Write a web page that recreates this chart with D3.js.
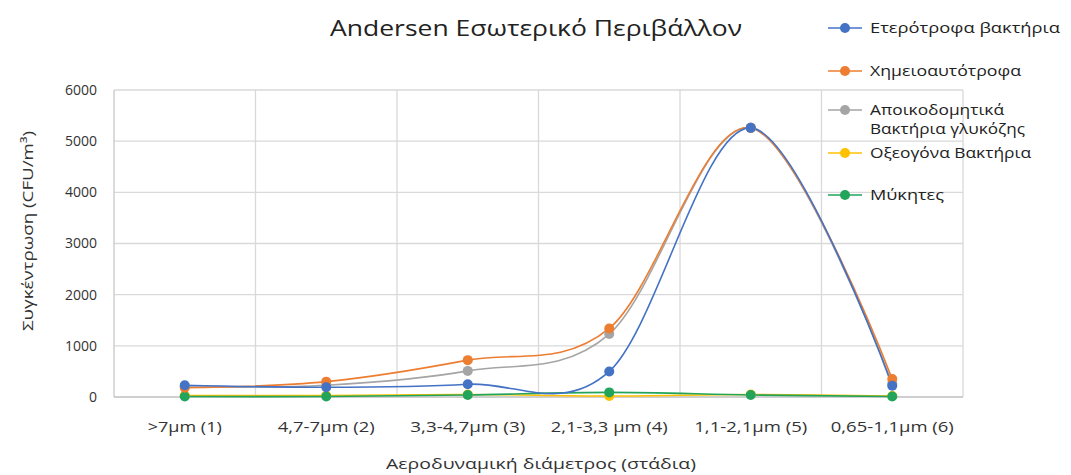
<!DOCTYPE html>
<html><head><meta charset="utf-8">
<script src="https://cdn.jsdelivr.net/npm/d3@7"></script>
<style>body{margin:0;background:#fff;} svg{font-family:"Open Sans","Noto Sans",sans-serif;}</style>
</head><body><svg id="c" width="1071" height="475"></svg>
<script>
const categories = [">7μm (1)", "4,7-7μm (2)", "3,3-4,7μm (3)", "2,1-3,3 μm (4)", "1,1-2,1μm (5)", "0,65-1,1μm (6)"];
const seriesNames = ["Ετερότροφα  βακτήρια", "Χημειοαυτότροφα", "Αποικοδομητικά Βακτήρια γλυκόζης", "Οξεογόνα Βακτήρια", "Μύκητες"];
const heterotrophic = [230, 190, 250, 500, 5260, 220];
const chemoautotrophic = [180, 300, 720, 1340, 5260, 350];
const glucoseDegrading = [200, 230, 510, 1230, 5260, 260];
const acidogenic = [30, 30, 50, 20, 50, 20];
const fungi = [10, 10, 40, 90, 40, 10];
const yTicks = [0, 1000, 2000, 3000, 4000, 5000, 6000];
const colors = ["#4472c4", "#ed7d31", "#a5a5a5", "#ffc000", "#22a55b"];
const allSeries = [heterotrophic, chemoautotrophic, glucoseDegrading, acidogenic, fungi];

const svg = d3.select("#c");
const m = {l:114, r:963, t:90, b:397};
const x = d3.scaleBand().domain(categories).range([m.l, m.r]);
const y = d3.scaleLinear().domain([0, 6000]).range([m.b, m.t]);

// gridlines
const g = svg.append("g");
g.selectAll(".hg").data(yTicks).join("line")
  .attr("x1", m.l).attr("x2", m.r).attr("y1", d=>y(d)).attr("y2", d=>y(d))
  .attr("stroke", "#d9d9d9").attr("stroke-width", 1.3);
const vb = categories.map(c=>x(c)).concat([m.r]);
g.selectAll(".vg").data(vb).join("line")
  .attr("x1", d=>d).attr("x2", d=>d).attr("y1", m.t).attr("y2", m.b)
  .attr("stroke", (d,i)=> i===0 ? "#c8c8c8" : "#d9d9d9").attr("stroke-width", 1.3);
g.append("line").attr("x1", m.l).attr("x2", m.r).attr("y1", m.b).attr("y2", m.b).attr("stroke", "#c8c8c8").attr("stroke-width", 1.6);

// y axis labels
const ya = d3.axisLeft(y).tickValues(yTicks).tickFormat(d3.format("d")).tickSize(0).tickPadding(17);
const yg = svg.append("g").attr("transform", `translate(${m.l},0)`).call(ya);
yg.select(".domain").remove();
yg.selectAll("text").attr("font-size", 14).attr("fill", "#333").attr("font-family", "Open Sans");

const xLabelWidths = [74, 97, 115, 117, 113, 123];
const xa = d3.axisBottom(x).tickSize(0).tickPadding(25);
const xg = svg.append("g").attr("transform", `translate(0,${m.b})`).call(xa);
xg.select(".domain").remove();
xg.selectAll("text").attr("font-size", 14).attr("fill", "#333").attr("font-family", "Open Sans")
  .attr("textLength", (d,i)=>xLabelWidths[i]).attr("lengthAdjust", "spacingAndGlyphs");

// series
const line = d3.line().x((d,i)=>x(categories[i]) + x.bandwidth()/2).y(d=>y(d)).curve(d3.curveCardinal.tension(0));
const order = [3, 4, 2, 1, 0];
order.forEach(k=>{
  svg.append("path").datum(allSeries[k]).attr("d", line).attr("fill","none")
    .attr("stroke", colors[k]).attr("stroke-width", 1.6);
});
order.forEach(k=>{
  svg.append("g").selectAll("circle").data(allSeries[k]).join("circle")
    .attr("cx", (d,i)=>x(categories[i]) + x.bandwidth()/2).attr("cy", d=>y(d)).attr("r", 5)
    .attr("fill", colors[k]);
});

// title
svg.append("text").attr("x", 536).attr("y", 36).attr("text-anchor","middle")
  .attr("font-size", 22).attr("fill","#222")
  .attr("textLength", 412).attr("lengthAdjust","spacingAndGlyphs")
  .text("Andersen Εσωτερικό Περιβάλλον");

// axis titles
svg.append("text").attr("transform", "translate(33,231) rotate(-90)").attr("text-anchor","middle")
  .attr("font-size", 15).attr("fill","#333")
  .attr("textLength", 200).attr("lengthAdjust","spacingAndGlyphs")
  .text("Συγκέντρωση (CFU/m³)");
svg.append("text").attr("x", 541).attr("y", 469).attr("text-anchor","middle")
  .attr("font-size", 15).attr("fill","#333")
  .attr("textLength", 310).attr("lengthAdjust","spacingAndGlyphs")
  .text("Αεροδυναμική διάμετρος (στάδια)");

// legend
const legY = [28, 71, 110, 153, 195];
const legLines = [["Ετερότροφα  βακτήρια"], ["Χημειοαυτότροφα"], ["Αποικοδομητικά", "Βακτήρια γλυκόζης"], ["Οξεογόνα Βακτήρια"], ["Μύκητες"]];
const legWidths = [[190], [151], [134, 155], [161], [74]];
seriesNames.forEach((n,k)=>{
  const lg = svg.append("g").attr("transform", `translate(0,${legY[k]})`);
  lg.append("line").attr("x1", 828).attr("x2", 862).attr("y1",0).attr("y2",0).attr("stroke", colors[k]).attr("stroke-width",1.6);
  lg.append("circle").attr("cx", 845).attr("cy", 0).attr("r", 5).attr("fill", colors[k]);
  legLines[k].forEach((t,j)=>{
    lg.append("text").attr("x", 870).attr("y", 5 + j*19).attr("font-size", 14).attr("fill","#222")
      .attr("textLength", legWidths[k][j]).attr("lengthAdjust","spacingAndGlyphs").text(t);
  });
});
</script></body></html>
